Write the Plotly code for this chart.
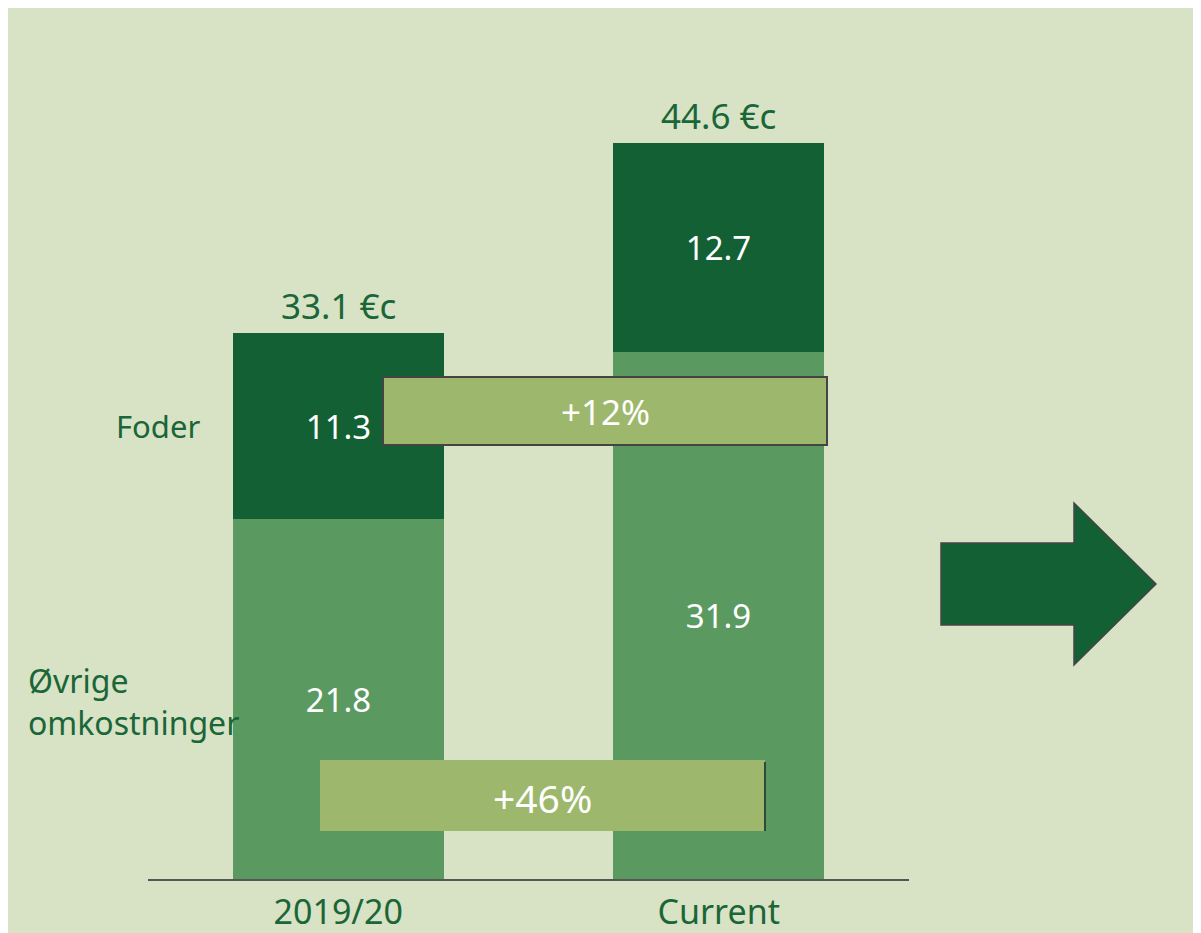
import plotly.graph_objects as go

# ---- data ----
categories = ["2019/20", "Current"]
other_costs = [21.8, 31.9]
feed_costs = [11.3, 12.7]
series_names = ["Øvrige omkostninger", "Foder"]
totals_text = ["33.1 €c", "44.6 €c"]
change_labels = ["+12%", "+46%"]

# ---- colours / style ----
BG = "#d8e2c4"
DARK = "#136034"
MID = "#5a9a60"
BOX = "#9db86c"
TXT = "#1a6638"
FONT = "Noto Sans"

# page geometry: figure sits inside the 8px body margin
OX, OY = 8, 8
W_FIG, H_FIG = 1193, 925
PL, PR, PB, PT = 148, 909, 879, 87  # plot area in screenshot pixels
ml = PL - OX
mr = W_FIG - (PR - OX)
mt = PT - OY
mb = H_FIG - (PB - OY)
PW, PH = PR - PL, PB - PT
YMAX = PH / 16.51


def px(x):
    return (x - PL) / PW


def py(y):
    return (PB - y) / PH


fig = go.Figure()
fig.add_trace(go.Bar(
    x=categories, y=other_costs, name=series_names[0], marker_color=MID,
    marker_line_width=0,
    width=0.555, text=[f"{v:.1f}" for v in other_costs], textposition="inside",
    insidetextanchor="middle", textangle=0,
    textfont=dict(color="white", size=33, family=FONT), constraintext="none",
))
fig.add_trace(go.Bar(
    x=categories, y=feed_costs, name=series_names[1], marker_color=DARK,
    marker_line_width=0,
    width=0.555, text=[f"{v:.1f}" for v in feed_costs], textposition="inside",
    insidetextanchor="middle", textangle=0,
    textfont=dict(color="white", size=33, family=FONT), constraintext="none",
))

# totals above bars
for c, o, f, t in zip(categories, other_costs, feed_costs, totals_text):
    fig.add_annotation(x=c, y=o + f, text=t, showarrow=False, yanchor="bottom",
                       yshift=2, font=dict(color=TXT, size=35, family=FONT))

# series labels on the left
fig.add_annotation(xref="paper", yref="y", x=px(158),
                   y=other_costs[0] + feed_costs[0] / 2,
                   text=series_names[1], showarrow=False, xanchor="center",
                   yanchor="middle", font=dict(color=TXT, size=31, family=FONT))
fig.add_annotation(xref="paper", yref="paper", x=px(26), y=py(701),
                   text="Øvrige<br>omkostninger", showarrow=False,
                   xanchor="left", yanchor="middle", align="left",
                   font=dict(color=TXT, size=32, family=FONT))

# change boxes
fig.add_shape(type="rect", xref="paper", yref="paper", x0=px(383), x1=px(827),
              y0=py(445), y1=py(377), fillcolor=BOX,
              line=dict(color="#444444", width=2), layer="above")
fig.add_annotation(xref="paper", yref="paper", x=px(605), y=py(411),
                   text=change_labels[0], showarrow=False,
                   xanchor="center", yanchor="middle",
                   font=dict(color="white", size=35, family=FONT))
fig.add_shape(type="rect", xref="paper", yref="paper", x0=px(320), x1=px(765),
              y0=py(831), y1=py(760), fillcolor=BOX, line=dict(width=0),
              layer="above")
fig.add_shape(type="line", xref="paper", yref="paper", x0=px(765), x1=px(765),
              y0=py(831), y1=py(762), line=dict(color="#33483a", width=2),
              layer="above")
fig.add_annotation(xref="paper", yref="paper", x=px(542), y=py(797),
                   text=change_labels[1], showarrow=False,
                   xanchor="center", yanchor="middle",
                   font=dict(color="white", size=39, family=FONT))

# arrow
pts = [(941, 543), (1074, 543), (1074, 503), (1156, 584), (1074, 665),
       (1074, 625), (941, 625)]
path = "M " + " L ".join(f"{px(a):.5f},{py(b):.5f}" for a, b in pts) + " Z"
fig.add_shape(type="path", xref="paper", yref="paper", path=path,
              fillcolor=DARK, line=dict(color="#444444", width=1.5))

fig.update_layout(
    width=W_FIG, height=H_FIG, barmode="stack", showlegend=False,
    paper_bgcolor=BG, plot_bgcolor=BG,
    margin=dict(l=ml, r=mr, t=mt, b=mb, pad=0, autoexpand=False),
    bargap=0,
    font=dict(family=FONT, color=TXT, size=32),
)
fig.update_xaxes(showline=True, linecolor="#555555", linewidth=2,
                 showgrid=False, ticks="", ticklabelstandoff=2,
                 automargin=False,
                 tickfont=dict(size=34, color=TXT, family=FONT),
                 range=[-0.5, 1.5])
fig.update_yaxes(visible=False, range=[0, YMAX], showgrid=False,
                 automargin=False)

fig.write_html("out.html")
